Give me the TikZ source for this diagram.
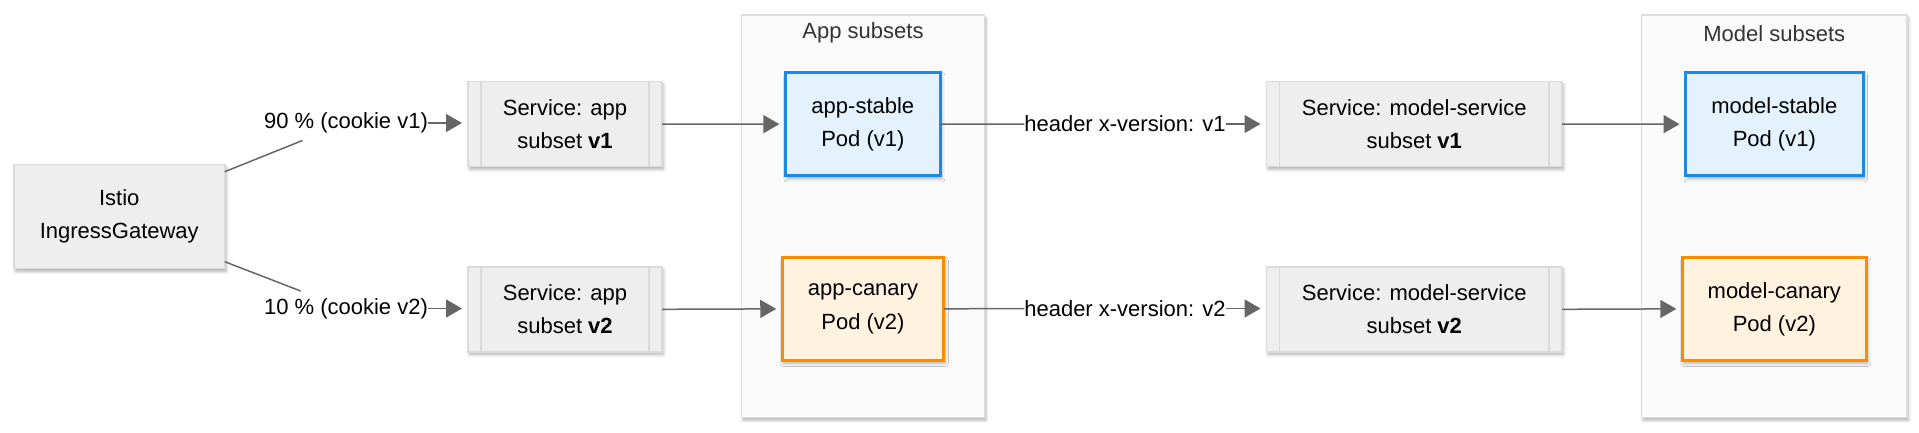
\documentclass[tikz,border=0pt]{standalone}
\usepackage{fontspec}
\setmainfont{Liberation Sans}
\usetikzlibrary{arrows.meta,shadows.blur}
\definecolor{edgegray}{HTML}{666666}
\definecolor{boxfill}{HTML}{EEEEEE}
\definecolor{boxline}{HTML}{DADADA}
\definecolor{grpfill}{HTML}{FAFAFA}
\definecolor{grpline}{HTML}{DDDDDD}
\definecolor{bluel}{HTML}{1E88E5}
\definecolor{bluef}{HTML}{E3F2FD}
\definecolor{orangel}{HTML}{FB8C00}
\definecolor{orangef}{HTML}{FFF3E0}
\definecolor{titlegray}{HTML}{333333}
\tikzset{
  shad/.style={blur shadow={shadow xshift=1.5pt, shadow yshift=-3pt, shadow blur radius=3pt, shadow opacity=30}},
  base/.style={rectangle, inner sep=0pt, outer sep=0pt, align=center, font=\fontsize{22}{33}\selectfont},
  graybox/.style={base, draw=boxline, line width=1.5pt, fill=boxfill, shad},
  group/.style={rectangle, inner sep=0pt, outer sep=0pt, draw=grpline, line width=1.5pt, fill=grpfill, shad},
  podblue/.style={base, draw=bluel, fill=bluef, line width=3pt, shad},
  podorange/.style={base, draw=orangel, fill=orangef, line width=3pt, shad},
  lbl/.style={base, minimum height=35pt},
  grouptitle/.style={base, text=titlegray},
  edge/.style={draw=edgegray, line width=1.5pt},
  arr/.style={edge, -{Triangle[length=16pt,width=18pt]}, shorten >=6pt},
  procline/.style={draw=boxline, line width=1.5pt},
}
\begin{document}
\begin{tikzpicture}[x=1pt,y=-1pt]
\useasboundingbox (0,0) rectangle (1919,432);
% groups
\node[group, minimum width=243pt, minimum height=402.3pt] (g1) at (863,216.15) {};
\node[grouptitle] (g1t) at (863,33.3) {App subsets};
\node[group, minimum width=265.4pt, minimum height=402.3pt] (g2) at (1774.3,216.15) {};
\node[grouptitle] (g2t) at (1774.3,33.3) {Model subsets};
% boxes
\node[graybox, minimum width=211pt, minimum height=104pt] (istio) at (119.25,216.7) {Istio\\IngressGateway};
\node[graybox, minimum width=194pt, minimum height=85pt] (sa1) at (565,124) {Service: app\\subset \textbf{v1}};
\node[graybox, minimum width=194pt, minimum height=85pt] (sa2) at (565,309.3) {Service: app\\subset \textbf{v2}};
\node[graybox, minimum width=295.5pt, minimum height=85pt] (sm1) at (1414.25,124) {Service: model-service\\subset \textbf{v1}};
\node[graybox, minimum width=295.5pt, minimum height=85pt] (sm2) at (1414.25,309.3) {Service: model-service\\subset \textbf{v2}};
\node[podblue, minimum width=155pt, minimum height=103.5pt] (as) at (862.85,124.15) {app-stable\\Pod (v1)};
\node[podorange, minimum width=161.5pt, minimum height=103pt] (ac) at (863,308.85) {app-canary\\Pod (v2)};
\node[podblue, minimum width=177.5pt, minimum height=103.5pt] (ms) at (1774.3,124.15) {model-stable\\Pod (v1)};
\node[podorange, minimum width=184pt, minimum height=103pt] (mc) at (1774.3,308.85) {model-canary\\Pod (v2)};
\foreach \n in {sa1,sa2,sm1,sm2}{
  \draw[procline] ([xshift=13pt]\n.north west) -- ([xshift=13pt]\n.south west);
  \draw[procline] ([xshift=-13pt]\n.north east) -- ([xshift=-13pt]\n.south east);
}
% edge labels
\node[lbl] (l1) at (346,123) {90 \% (cookie v1)};
\node[lbl] (l2) at (346,308.5) {10 \% (cookie v2)};
\node[lbl] (h1) at (1125,124) {header x-version: v1};
\node[lbl] (h2) at (1125,308.5) {header x-version: v2};
% connectors
\draw[edge] ([yshift=45pt]istio.east) -- (l1);
\draw[arr] (l1.east) -- (l1.east -| sa1.west);
\draw[edge] ([yshift=-45pt]istio.east) -- (l2);
\draw[arr] (l2.east) -- (l2.east -| sa2.west);
\draw[arr] (sa1.east) -- (as.west);
\draw[arr] (sa2.east) -- (ac.west);
\draw[edge] (as.east) -- (h1.west);
\draw[arr] (h1.east) -- (h1.east -| sm1.west);
\draw[edge] (ac.east) -- (h2.west);
\draw[arr] (h2.east) -- (h2.east -| sm2.west);
\draw[arr] (sm1.east) -- (ms.west);
\draw[arr] (sm2.east) -- (mc.west);
\end{tikzpicture}
\end{document}
